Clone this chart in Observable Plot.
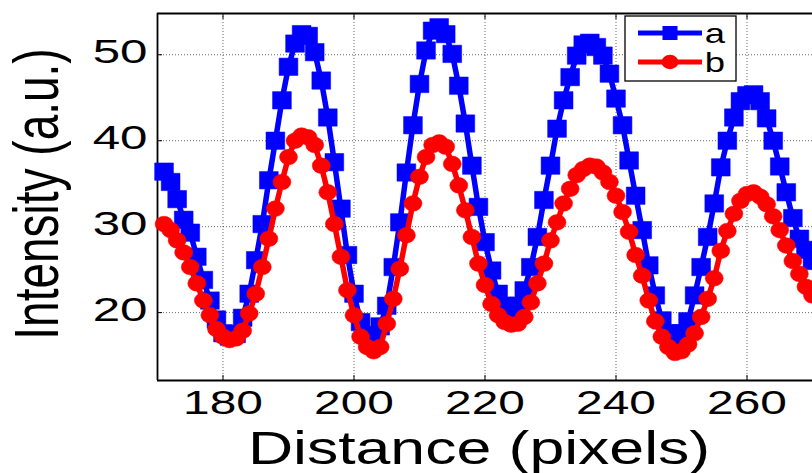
<!DOCTYPE html>
<html>
<head>
<meta charset="utf-8">
<script src="https://cdn.jsdelivr.net/npm/d3@7"></script>
<script src="https://cdn.jsdelivr.net/npm/@observablehq/plot@0.6"></script>
<style>
  html, body { margin: 0; padding: 0; background: #fff; }
  #chart svg { display: block; }
</style>
</head>
<body>
<div id="chart"></div>
<script>
// ---- data ----
const distance = [
  171,172,173,174,175,176,177,178,179,180,
  181,182,183,184,185,186,187,188,189,190,
  191,192,193,194,195,196,197,198,199,200,
  201,202,203,204,205,206,207,208,209,210,
  211,212,213,214,215,216,217,218,219,220,
  221,222,223,224,225,226,227,228,229,230,
  231,232,233,234,235,236,237,238,239,240,
  241,242,243,244,245,246,247,248,249,250,
  251,252,253,254,255,256,257,258,259,260,
  261,262,263,264,265,266,267,268,269,270
];
const intensityA = [
  36.4,35.2,33.2,30.8,29.3,26.5,23.8,21.4,19.2,17.6,
  17.2,17.5,19.4,22.2,26.1,30.3,35.4,40.0,44.7,48.6,
  51.3,52.4,52.2,50.3,47.0,42.7,37.5,32.1,26.7,22.2,
  18.9,17.4,17.2,18.4,20.8,25.3,30.5,36.3,41.8,46.6,
  50.5,52.8,53.2,52.4,50.1,46.4,42.0,37.1,32.3,28.2,
  24.9,22.2,20.8,20.4,20.8,22.6,25.3,28.8,33.1,37.1,
  41.4,44.7,47.4,49.9,51.2,51.4,50.9,49.9,47.8,44.9,
  41.8,37.7,33.6,29.6,25.5,22.0,19.1,17.6,17.3,17.6,
  19.0,22.0,25.3,28.8,32.7,36.9,40.0,42.7,44.6,45.3,
  45.4,44.6,42.6,40.0,37.0,34.0,31.0,28.6,27.3,26.0
];
const intensityB = [
  30.3,29.6,28.4,27.0,25.3,23.4,21.4,19.7,18.1,17.2,
  16.8,17.0,17.9,19.9,22.2,25.3,28.6,32.1,35.2,38.1,
  40.0,40.6,40.4,39.5,37.1,34.0,30.3,26.5,22.6,19.7,
  17.2,16.0,15.5,16.0,18.7,21.6,25.1,29.0,32.7,35.8,
  38.1,39.5,39.8,39.3,37.3,34.8,31.9,28.8,25.7,23.2,
  21.0,19.7,18.9,18.6,18.7,19.5,21.2,23.4,25.7,28.4,
  30.5,32.7,34.4,36.0,36.7,37.1,37.0,36.3,35.2,33.6,
  31.7,29.4,26.7,24.3,21.4,19.0,17.2,16.0,15.3,15.5,
  16.3,17.6,19.5,21.6,24.0,27.2,29.5,31.5,33.0,33.8,
  34.0,33.5,32.6,31.2,29.6,27.8,26.0,24.5,23.0,22.0
];
const xTicks = [180, 200, 220, 240, 260];
const yTicks = [20, 30, 40, 50];
const xDomain = [170, 270];
const yDomain = [12.1, 54.8];
const seriesNames = ["a", "b"];
const seriesColors = ["#0000ff", "#ff0000"];
const xLabel = "Distance (pixels)";
const yLabel = "Intensity (a.u.)";

// ---- tables built from the arrays ----
const rowsA = distance.map((x, i) => ({x, y: intensityA[i]}));
const rowsB = distance.map((x, i) => ({x, y: intensityB[i]}));

const FONT = "'Liberation Sans', Arial, Helvetica, sans-serif";
const gridStyle = {stroke: "#000", strokeOpacity: 0.75, strokeWidth: 0.8, strokeDasharray: "1,2"};

const svg = Plot.plot({
  width: 812,
  height: 473,
  marginLeft: 157,
  marginRight: 0,
  marginTop: 13,
  marginBottom: 93,
  style: {fontFamily: FONT, background: "#fff", color: "#000", overflow: "visible"},
  x: {domain: xDomain, label: null},
  y: {domain: yDomain, label: null},
  marks: [
    Plot.gridX(xTicks, gridStyle),
    Plot.gridY(yTicks, gridStyle),
    Plot.ruleX([xDomain[0]], {stroke: "#000", strokeWidth: 1.8}),
    Plot.ruleY([yDomain[0], yDomain[1]], {stroke: "#000", strokeWidth: 1.8}),
    Plot.axisX(xTicks, {anchor: "bottom", tickSize: -5, tickPadding: 15, fontSize: 33, label: null, tickFormat: d => String(d)}),
    Plot.axisX(xTicks, {anchor: "top", tickSize: -5, label: null, tickFormat: () => ""}),
    Plot.axisY(yTicks, {anchor: "left", tickSize: -5, tickPadding: 15, fontSize: 34, label: null, tickFormat: d => String(d)}),
    Plot.line(rowsA, {x: "x", y: "y", stroke: seriesColors[0], strokeWidth: 5.5}),
    Plot.dot(rowsA, {x: "x", y: "y", symbol: "square", r: 9.8, fill: seriesColors[0], stroke: seriesColors[0], strokeWidth: 0.5}),
    Plot.line(rowsB, {x: "x", y: "y", stroke: seriesColors[1], strokeWidth: 5.5}),
    Plot.dot(rowsB, {x: "x", y: "y", symbol: "circle", r: 7.8, fill: seriesColors[1], stroke: seriesColors[1], strokeWidth: 0.5}),
    Plot.text([xLabel], {frameAnchor: "bottom", dx: -6, dy: 83, fontSize: 46, lineAnchor: "bottom", textAnchor: "middle", fill: "#000"}),
    Plot.text([yLabel], {frameAnchor: "left", rotate: -90, dx: -120, dy: -3, fontSize: 46, lineAnchor: "middle", textAnchor: "middle", fill: "#000"})
  ]
});

document.getElementById("chart").appendChild(svg);
const root = d3.select(svg);

// The reference is horizontally stretched: widen the text accordingly.
function stretch(sel, sx, sy) {
  sel.each(function () {
    let t = this.getAttribute("transform") || "";
    const x = this.getAttribute("x");
    if (x !== null && !isNaN(+x)) { t += ` translate(${x},0)`; this.removeAttribute("x"); }
    this.setAttribute("transform", `${t} scale(${sx},${sy})`);
  });
}
stretch(root.selectAll("g[aria-label='x-axis tick label'] text"), 1.45, 1);
stretch(root.selectAll("g[aria-label='y-axis tick label'] text"), 1.45, 1);
root.selectAll("g[aria-label='text'] text").each(function () {
  const txt = this.textContent;
  if (txt === xLabel) stretch(d3.select(this), 1.36, 1);
  if (txt === yLabel) stretch(d3.select(this), 1, 1.37);
});
root.selectAll("g[aria-label='y-axis tick label'] text").attr("dy", "-0.08em");

// Markers are slightly wider than tall in the reference.
root.selectAll("g[aria-label='dot'] circle").each(function () {
  const cx = +this.getAttribute("cx"), cy = +this.getAttribute("cy");
  this.setAttribute("transform", `translate(${cx},${cy}) scale(1.15,1) translate(${-cx},${-cy})`);
});
root.selectAll("g[aria-label='dot'] path").each(function () {
  const t = this.getAttribute("transform") || "";
  this.setAttribute("transform", `${t} scale(1.08,1)`);
});

// Legend box (top right, inside the plot frame)
const lg = root.append("g").attr("aria-label", "legend");
lg.append("rect").attr("x", 625).attr("y", 16).attr("width", 111).attr("height", 65)
  .attr("fill", "#fff").attr("stroke", "#000").attr("stroke-width", 1.3);
seriesNames.forEach((name, i) => {
  const yy = 33 + i * 29;
  lg.append("line").attr("x1", 638).attr("x2", 702).attr("y1", yy).attr("y2", yy)
    .attr("stroke", seriesColors[i]).attr("stroke-width", 5);
  if (i === 0) {
    lg.append("rect").attr("x", 670 - 7.5).attr("y", yy - 7).attr("width", 15).attr("height", 14)
      .attr("fill", seriesColors[i]);
  } else {
    lg.append("ellipse").attr("cx", 670).attr("cy", yy).attr("rx", 8.5).attr("ry", 7.2)
      .attr("fill", seriesColors[i]);
  }
  lg.append("text").attr("transform", `translate(715,${yy}) scale(1.35,1)`)
    .attr("dy", "0.36em").attr("font-size", 27).attr("font-family", FONT)
    .attr("fill", "#000").text(name);
});
</script>
</body>
</html>
